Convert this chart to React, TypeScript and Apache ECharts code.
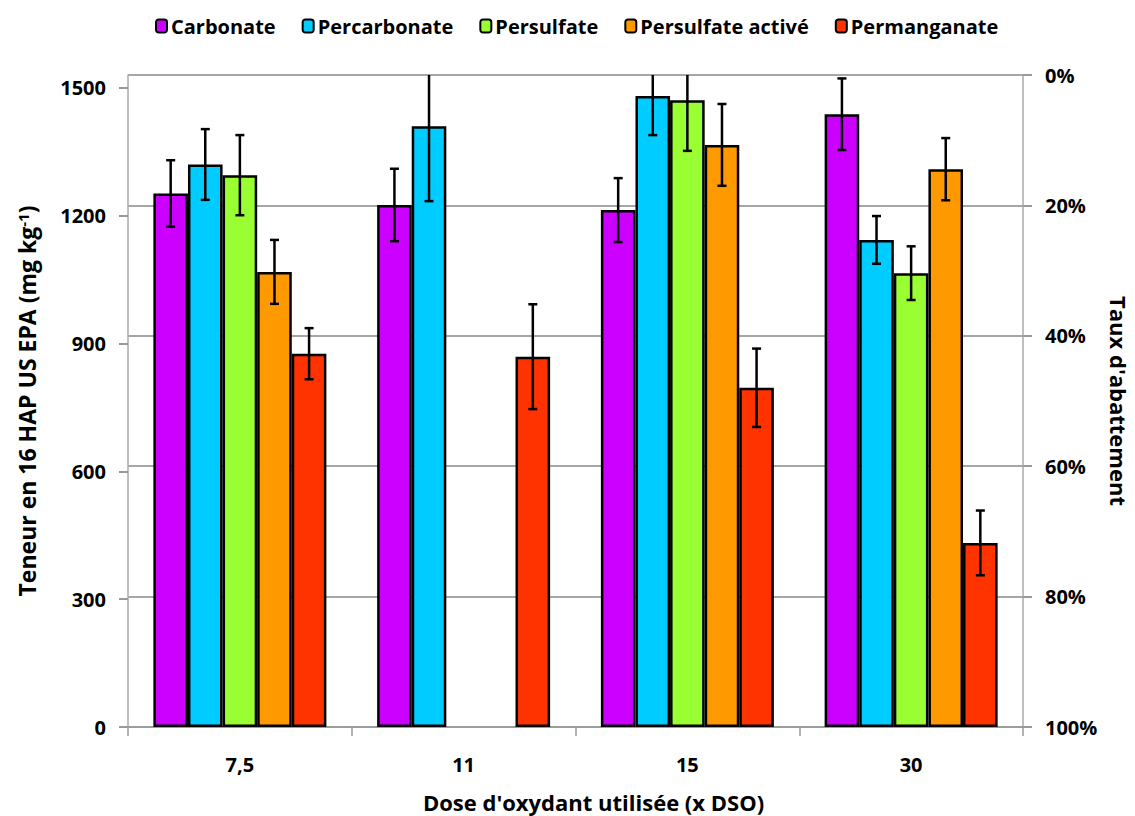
import React, { useEffect, useRef } from "react";
import * as echarts from "echarts";

const categories = ["7,5", "11", "15", "30"];
const seriesNames = ["Carbonate", "Percarbonate", "Persulfate", "Persulfate activé", "Permanganate"];
const colors = ["#CC00FF", "#00CCFF", "#99FF33", "#FF9900", "#FF3300"];

const carbonate = [1252, 1225, 1213, 1438];
const percarbonate = [1320, 1410, 1481, 1143];
const persulfate = [1295, null, 1471, 1065];
const persulfateActive = [1068, null, 1366, 1309];
const permanganate = [876, 869, 796, 432];

const carbonateErr = [78, 85, 75, 84];
const percarbonateErr = [83, 176, 92, 56];
const persulfateErr = [94, null, 119, 63];
const persulfateActiveErr = [75, null, 96, 73];
const permanganateErr = [60, 123, 92, 76];

const leftTicks = [0, 300, 600, 900, 1200, 1500];
const leftMax = 1530;
const rightTicks = [0, 20, 40, 60, 80, 100];

const values = [carbonate, percarbonate, persulfate, persulfateActive, permanganate];
const errors = [carbonateErr, percarbonateErr, persulfateErr, persulfateActiveErr, permanganateErr];

const FONT = "Open Sans";
const BAR_W = 34.6;

export default function App() {
  const ref = useRef<HTMLDivElement>(null);
  useEffect(() => {
    document.body.style.margin = "0";
    const chart = echarts.init(ref.current!, null, { renderer: "svg" });

    const barSeries = seriesNames.map((name, i) => ({
      name,
      type: "bar",
      data: values[i],
      barWidth: BAR_W,
      barGap: "0%",
      itemStyle: { color: colors[i], borderColor: "#000", borderWidth: 2.5 },
      z: 2,
    }));

    const errSeries = seriesNames.map((name, i) => ({
      name: name + "_err",
      type: "custom",
      z: 10,
      silent: true,
      data: values[i]
        .map((v, c) => (v == null ? null : [c, v - (errors[i][c] as number), v + (errors[i][c] as number)]))
        .filter((d) => d != null),
      renderItem: (params: any, api: any) => {
        const c = api.value(0);
        const lo = api.value(1);
        const hi = api.value(2);
        const clipped = hi > leftMax;
        const p0 = api.coord([c, lo]);
        const p1 = api.coord([c, Math.min(hi, leftMax)]);
        const x = p0[0] + (i - 2) * BAR_W;
        const style = { stroke: "#000", lineWidth: 2.5 };
        const children: any[] = [
          { type: "line", shape: { x1: x, y1: p0[1], x2: x, y2: p1[1] }, style },
          { type: "line", shape: { x1: x - 4.5, y1: p0[1], x2: x + 4.5, y2: p0[1] }, style },
        ];
        if (!clipped) {
          children.push({ type: "line", shape: { x1: x - 4.5, y1: p1[1], x2: x + 4.5, y2: p1[1] }, style });
        }
        return { type: "group", children };
      },
    }));

    chart.setOption({
      animation: false,
      textStyle: { fontFamily: FONT },
      legend: {
        data: seriesNames,
        top: 11,
        left: 150,
        itemWidth: 11,
        itemHeight: 13,
        itemGap: 26,
        textStyle: { fontFamily: FONT, fontWeight: "bold", fontSize: 20, color: "#000", padding: [0, 0, 0, -1] },
      },
      grid: { left: 128, right: 112, top: 75, bottom: 89, outerBoundsMode: "none", containLabel: false },
      xAxis: {
        type: "category",
        data: categories,
        axisLine: { lineStyle: { color: "#999", width: 1.5 } },
        axisTick: { show: true, length: 9, interval: 0, lineStyle: { color: "#999", width: 1.5 } },
        axisLabel: { fontFamily: FONT, fontWeight: "bold", fontSize: 20, color: "#000", margin: 27 },
        name: "Dose d'oxydant utilisée (x DSO)",
        nameLocation: "middle",
        nameGap: 64,
        nameTextStyle: { fontFamily: FONT, fontWeight: "bold", fontSize: 22, color: "#000", padding: [0, 0, 0, 36] },
      },
      yAxis: [
        {
          type: "value",
          min: 0,
          max: leftMax,
          interval: 300,
          position: "left",
          axisLine: { show: true, lineStyle: { color: "#aaa", width: 1.5 } },
          axisTick: { show: true, length: 9, inside: false, customValues: leftTicks, lineStyle: { color: "#999", width: 2 } },
          splitLine: { show: false },
          axisLabel: {
            fontFamily: FONT,
            fontWeight: "bold",
            fontSize: 20,
            color: "#000",
            margin: 22,
            customValues: leftTicks,
            formatter: (v: number) => (v % 300 === 0 ? String(v) : ""),
          },
          name: "Teneur en 16 HAP US EPA (mg kg{sup|-1})",
          nameLocation: "middle",
          nameRotate: 90,
          nameGap: 90,
          nameTextStyle: {
            fontFamily: FONT,
            fontWeight: "bold",
            fontSize: 23,
            color: "#000",
            rich: { sup: { fontFamily: FONT, fontWeight: "bold", fontSize: 15, verticalAlign: "top", color: "#000", padding: [0, 0, 8, 0] } },
          },
        },
        {
          type: "value",
          min: 0,
          max: 100,
          interval: 20,
          inverse: true,
          position: "right",
          axisLine: { show: true, lineStyle: { color: "#aaa", width: 1.5 } },
          axisTick: { show: true, length: 9, lineStyle: { color: "#999", width: 2 } },
          splitLine: { show: true, lineStyle: { color: "#888", width: 1.5 } },
          axisLabel: {
            fontFamily: FONT,
            fontWeight: "bold",
            fontSize: 20,
            color: "#000",
            margin: 22,
            customValues: rightTicks,
            formatter: "{value}%",
          },
          name: "Taux d'abattement",
          nameLocation: "middle",
          nameRotate: -90,
          nameGap: 85,
          nameTextStyle: { fontFamily: FONT, fontWeight: "bold", fontSize: 22, color: "#000" },
        },
      ],
      series: [...barSeries, ...errSeries],
    });
    return () => chart.dispose();
  }, []);
  return <div ref={ref} style={{ width: 1135, height: 816 }} />;
}
